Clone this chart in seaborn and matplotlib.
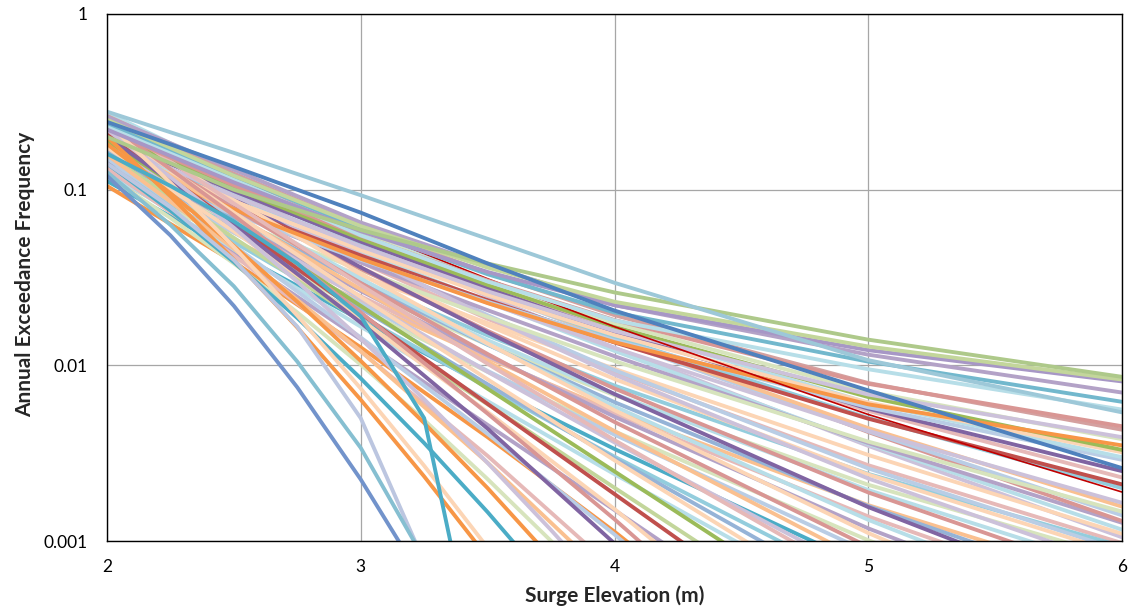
import numpy as np
import pandas as pd
import matplotlib
matplotlib.use("Agg")
import matplotlib.pyplot as plt
from matplotlib.ticker import LogLocator, NullFormatter, MultipleLocator
import seaborn as sns

# ---------------- data ----------------
surge_m = [2.0, 2.5, 3.0, 3.5, 4.0, 5.0, 6.0]          # grid of the gentler curves
surge_fine = [2.0, 2.25, 2.5, 2.75, 3.0, 3.25, 3.5, 3.75, 4.0]  # grid of the steep curves

x_ticks = [2, 3, 4, 5, 6]
x_tick_labels = ["2", "3", "4", "5", "6"]
y_ticks = [0.001, 0.01, 0.1, 1]
y_tick_labels = ["0.001", "0.01", "0.1", "1"]

# steep curves (on surge_fine) that leave through the bottom early
c01 = [0.12, 0.0549, 0.0218, 0.00749, 0.00224, 0.000581, None, None, None]
c02 = [0.126, 0.063, 0.0282, 0.0105, 0.00339, 0.00079, None, None, None]
c03 = [0.141, 0.0794, 0.0398, 0.0166, 0.005, 0.00076, None, None, None]
c04 = [0.16, 0.105, 0.066, 0.038, 0.019, 0.005, 0.0001, None, None]
c05 = [0.2, 0.0919, 0.04, 0.01642, 0.00637, 0.00233, 0.000805, None, None]
c06 = [0.24, 0.1095, 0.0472, 0.0192, 0.00738, 0.00268, 0.000916, None, None]
c07 = [0.141, 0.0761, 0.0387, 0.0186, 0.00843, 0.00361, 0.00146, 0.000556, None]
c08 = [0.182, 0.0954, 0.0479, 0.023, 0.0106, 0.00469, 0.002, 0.000801, None]
c09 = [0.12, 0.069, 0.038, 0.02, 0.0101, 0.00488, 0.00225, 0.001, 0.000425]
c10 = [0.219, 0.1177, 0.0607, 0.02995, 0.01416, 0.00641, 0.00278, 0.001154, 0.00046]

# gentler curves (on surge_m) that leave through the bottom
c11 = [0.158, 0.0462, 0.01205, 0.00279, 0.000578, None, None]
c12 = [0.132, 0.0422, 0.012, 0.00305, 0.00069, None, None]
c13 = [0.2, 0.0627, 0.0175, 0.00436, 0.000968, None, None]
c14 = [0.151, 0.048, 0.0144, 0.00407, 0.00109, 0.000065, None]
c15 = [0.105, 0.0388, 0.01265, 0.0039, 0.00113, 0.000081, None]
c16 = [0.24, 0.0713, 0.02, 0.00531, 0.00133, 0.00007, None]
c17 = [0.174, 0.0579, 0.01824, 0.00542, 0.00152, 0.0001, None]
c18 = [0.132, 0.043, 0.01404, 0.00458, 0.0015, 0.000159, None]
c19 = [0.209, 0.0641, 0.0197, 0.00603, 0.00185, 0.000174, None]
c20 = [0.158, 0.0532, 0.01786, 0.006, 0.00201, 0.000227, None]
c21 = [0.19, 0.0644, 0.0218, 0.00736, 0.00249, 0.000284, None]
c22 = [0.126, 0.0452, 0.0166, 0.00625, 0.0024, 0.00038, None]
c23 = [0.229, 0.0741, 0.0245, 0.00832, 0.00288, 0.00037, None]
c24 = [0.166, 0.0585, 0.0211, 0.0078, 0.00295, 0.000452, None]
c25 = [0.138, 0.0504, 0.0191, 0.00746, 0.00302, 0.00055, None]
c26 = [0.251, 0.0834, 0.0286, 0.0102, 0.00375, 0.000564, None]
c27 = [0.182, 0.0649, 0.024, 0.00918, 0.00364, 0.000632, None]
c28 = [0.112, 0.0443, 0.0181, 0.00764, 0.00334, 0.00071, None]
c29 = [0.2, 0.0722, 0.0271, 0.0105, 0.00422, 0.000754, None]
c30 = [0.151, 0.057, 0.0225, 0.0093, 0.00403, 0.000865, None]
c31 = [0.219, 0.0784, 0.0294, 0.0116, 0.00476, 0.000927, None]
c32 = [0.126, 0.0502, 0.021, 0.00918, 0.00421, 0.00101, 0.000294]
c33 = [0.24, 0.0873, 0.0333, 0.0133, 0.00555, 0.00111, 0.000268]
c34 = [0.166, 0.0649, 0.0265, 0.0114, 0.0051, 0.00118, 0.000328]
c35 = [0.2, 0.077, 0.0311, 0.0132, 0.00583, 0.00132, 0.000356]
c36 = [0.138, 0.057, 0.0247, 0.0112, 0.00532, 0.00138, 0.000429]
c37 = [0.229, 0.0889, 0.0361, 0.0154, 0.00686, 0.00156, 0.000429]
c38 = [0.174, 0.0697, 0.0295, 0.0131, 0.00617, 0.00158, 0.0005]
c39 = [0.12, 0.0514, 0.0231, 0.011, 0.00548, 0.0016, 0.000571]
c40 = [0.209, 0.0838, 0.0354, 0.0157, 0.00738, 0.00189, 0.000597]
c41 = [0.158, 0.0668, 0.0297, 0.0139, 0.00686, 0.00195, 0.000679]
c42 = [0.251, 0.1007, 0.0425, 0.0189, 0.00885, 0.00227, 0.000715]
c43 = [0.132, 0.058, 0.0269, 0.0131, 0.00676, 0.00209, 0.000794]
c44 = [0.19, 0.0806, 0.036, 0.0169, 0.00836, 0.00239, 0.00084]
c45 = [0.229, 0.0953, 0.0418, 0.0193, 0.00938, 0.00259, 0.000879]
c46 = [0.1445, 0.0641, 0.030, 0.0148, 0.00767, 0.00241, 0.000933]
c47 = [0.2, 0.0855, 0.0386, 0.0184, 0.0092, 0.0027, 0.000973]

# curves (on surge_m) that reach the right edge (x = 6)
r01 = [0.278, 0.162, 0.093, 0.0525, 0.0295, 0.0107, 0.0054]
r02 = [0.2, 0.1, 0.059, 0.038, 0.026, 0.014, 0.0086]
r03 = [0.25, 0.12, 0.062, 0.036, 0.023, 0.0128, 0.0083]
r04 = [0.22, 0.11, 0.058, 0.034, 0.022, 0.0122, 0.0081]
r05 = [0.26, 0.13, 0.065, 0.037, 0.022, 0.0115, 0.0070]
r06 = [0.24, 0.12, 0.06, 0.033, 0.02, 0.0105, 0.0062]
r07 = [0.23, 0.115, 0.055, 0.03, 0.018, 0.0095, 0.0056]
r08 = [0.243, 0.135, 0.074, 0.038, 0.0205, 0.0072, 0.0026]
r09 = [0.219, 0.1057, 0.0547, 0.0304, 0.0181, 0.00785, 0.0045]
r10 = [0.263, 0.1235, 0.0621, 0.0335, 0.0193, 0.00793, 0.0043]
r11 = [0.19, 0.092, 0.0476, 0.0264, 0.0157, 0.00682, 0.0039]
r12 = [0.24, 0.112, 0.0562, 0.0302, 0.0174, 0.00708, 0.0038]
r13 = [0.158, 0.0773, 0.0404, 0.0226, 0.01355, 0.006, 0.0035]
r14 = [0.209, 0.1018, 0.0525, 0.0287, 0.0166, 0.0066, 0.0033]
r15 = [0.174, 0.0862, 0.0453, 0.0252, 0.01486, 0.00614, 0.0032]
r16 = [0.275, 0.1229, 0.0587, 0.0301, 0.0165, 0.00612, 0.0030]
r17 = [0.138, 0.0724, 0.0399, 0.023, 0.01384, 0.00577, 0.0029]
r18 = [0.2, 0.0982, 0.0506, 0.0274, 0.01545, 0.00567, 0.0025]
r19 = [0.229, 0.1096, 0.055, 0.0289, 0.0159, 0.00551, 0.0023]
r20 = [0.151, 0.0786, 0.0422, 0.0235, 0.0135, 0.00497, 0.0021]
r21 = [0.182, 0.0917, 0.0479, 0.0259, 0.01446, 0.00502, 0.0020]
r22 = [0.251, 0.121, 0.0603, 0.0311, 0.0166, 0.00525, 0.0019]
r23 = [0.166, 0.0826, 0.0426, 0.0227, 0.01254, 0.00424, 0.00165]
r24 = [0.219, 0.1046, 0.0518, 0.0265, 0.01406, 0.00439, 0.00157]
r25 = [0.132, 0.0666, 0.0348, 0.01886, 0.01057, 0.00368, 0.00147]
r26 = [0.2, 0.0991, 0.0503, 0.0261, 0.0139, 0.00421, 0.0014]
r27 = [0.24, 0.1153, 0.0567, 0.0285, 0.01469, 0.00417, 0.0013]
r28 = [0.1445, 0.0738, 0.0385, 0.0206, 0.01127, 0.00361, 0.00127]
r29 = [0.182, 0.0892, 0.0448, 0.023, 0.01208, 0.00357, 0.00116]
r30 = [0.12, 0.0617, 0.0324, 0.0174, 0.00955, 0.00309, 0.0011]
r31 = [0.219, 0.1035, 0.0501, 0.0248, 0.0126, 0.00348, 0.00105]

# ---------------- styles / drawing order ----------------
M, F = "coarse", "fine"
series = [
    (c47, M, "#E6B9B8"), (r31, M, "#CCC1DA"), (c46, M, "#93CDDD"), (r30, M, "#FCD5B5"),
    (c45, M, "#B9CDE5"), (r29, M, "#B7DEE8"), (c44, M, "#FCD5B5"), (r28, M, "#B3A2C7"),
    (c43, M, "#D7E4BD"), (r27, M, "#D99694"), (c42, M, "#CCC1DA"), (r26, M, "#B9CDE5"),
    (c41, M, "#B7DEE8"), (r25, M, "#D7E4BD"), (c40, M, "#D99694"), (r24, M, "#FAC090"),
    (c39, M, "#FAC090"), (r23, M, "#CCC1DA"), (c38, M, "#95B3D7"), (r21, M, "#93CDDD"),
    (c37, M, "#8064A2"), (r20, M, "#C0504D"), (c36, M, "#E6B9B8"), (r19, M, "#E6B9B8"),
    (c35, M, "#B7DEE8"), (r18, M, "#8064A2"), (c34, M, "#B3A2C7"), (r17, M, "#B9CDE5"),
    (c33, M, "#FCD5B5"), (r16, M, "#B7DEE8"), (c32, M, "#D7E4BD"), (r15, M, "#FCD5B5"),
    (c31, M, "#D99694"), (r14, M, "#9BBB59"), (c30, M, "#B9CDE5"), (r13, M, "#F79646"),
    (c29, M, "#FAC090"), (r12, M, "#D7E4BD"), (c28, M, "#4BACC6"), (r11, M, "#CCC1DA"),
    (c27, M, "#CCC1DA"), (r10, M, "#D4A09F"), (c26, M, "#E6B9B8"), (r09, M, "#D99694"),
    (c25, M, "#93CDDD"), (c24, M, "#95B3D7"), (c23, M, "#FCD5B5"), (c22, M, "#B7DEE8"),
    (c21, M, "#9BBB59"), (c20, M, "#C3D69B"), (c19, M, "#C0504D"), (c18, M, "#B3A2C7"),
    (c17, M, "#FCD5B5"), (c16, M, "#D99694"), (c15, M, "#F79646"), (c14, M, "#B9CDE5"),
    (c13, M, "#8064A2"), (c12, M, "#E6B9B8"), (c11, M, "#FAC090"), (c10, F, "#CCC1DA"),
    (c09, F, "#D7E4BD"), (c08, F, "#F79646"), (c07, F, "#4BACC6"), (c06, F, "#FCD5B5"),
    (c05, F, "#F79646"), (c04, F, "#4BACC6"), (c03, F, "#BCC6E0"), (c02, F, "#86BFD1"),
    (c01, F, "#7293CB"),
    (r07, M, "#B7DEE8"), (r06, M, "#72B8CD"), (r05, M, "#B3A2C7"), (r04, M, "#A797C6"),
    (r03, M, "#C3D69B"), (r02, M, "#AEC98A"), (r08, M, "#4F81BD"), (r01, M, "#9DC8D8"),
]
thin_series = [(r22, M, "#C00000")]

# ---------------- figure ----------------
sns.set_style("white")
plt.rcParams["font.family"] = ["Lato", "DejaVu Sans"]

fig = plt.figure(figsize=(11.29, 6.13), dpi=100)
ax = fig.add_axes([107 / 1129, 72 / 613, 1015 / 1129, 527 / 613])


def draw(vals, grid, color, lw):
    xs = surge_fine if grid == F else surge_m
    df = pd.DataFrame({"x": xs, "y": np.array(vals, dtype=float)}).dropna()
    sns.lineplot(data=df, x="x", y="y", color=color, lw=lw, ax=ax,
                 estimator=None, sort=False, legend=False,
                 solid_capstyle="round", solid_joinstyle="round")


for vals, grid, col in series[:40]:
    draw(vals, grid, col, 2.8)
for vals, grid, col in thin_series:
    draw(vals, grid, col, 1.2)
for vals, grid, col in series[40:]:
    draw(vals, grid, col, 2.8)

ax.set_yscale("log")
ax.set_xlim(2, 6)
ax.set_ylim(0.001, 1)

ax.set_xticks(x_ticks)
ax.set_xticklabels(x_tick_labels)
ax.xaxis.set_minor_locator(MultipleLocator(0.2))
ax.set_yticks(y_ticks)
ax.set_yticklabels(y_tick_labels)
ax.yaxis.set_minor_locator(LogLocator(base=10, subs=np.arange(2, 10)))
ax.yaxis.set_minor_formatter(NullFormatter())

ax.grid(True, which="major", color="#A6A6A6", lw=0.9)
ax.grid(False, which="minor")
ax.set_axisbelow(True)

ax.tick_params(which="major", direction="out", length=5, width=1,
               color="black", labelsize=12.5, labelcolor="black")
ax.tick_params(which="minor", direction="out", length=3.5, width=1, color="black")
ax.tick_params(axis="x", which="major", pad=8)
ax.tick_params(axis="y", which="major", pad=9)

for s in ax.spines.values():
    s.set_visible(True)
    s.set_color("black")
    s.set_linewidth(1.0)

ax.set_xlabel("Surge Elevation (m)", fontsize=15, fontweight="bold")
ax.set_ylabel("Annual Exceedance Frequency", fontsize=15, fontweight="bold")
ax.xaxis.set_label_coords(0.5, -0.085)
ax.yaxis.set_label_coords(-0.071, 0.505)

fig.savefig("out.png", dpi=100)
